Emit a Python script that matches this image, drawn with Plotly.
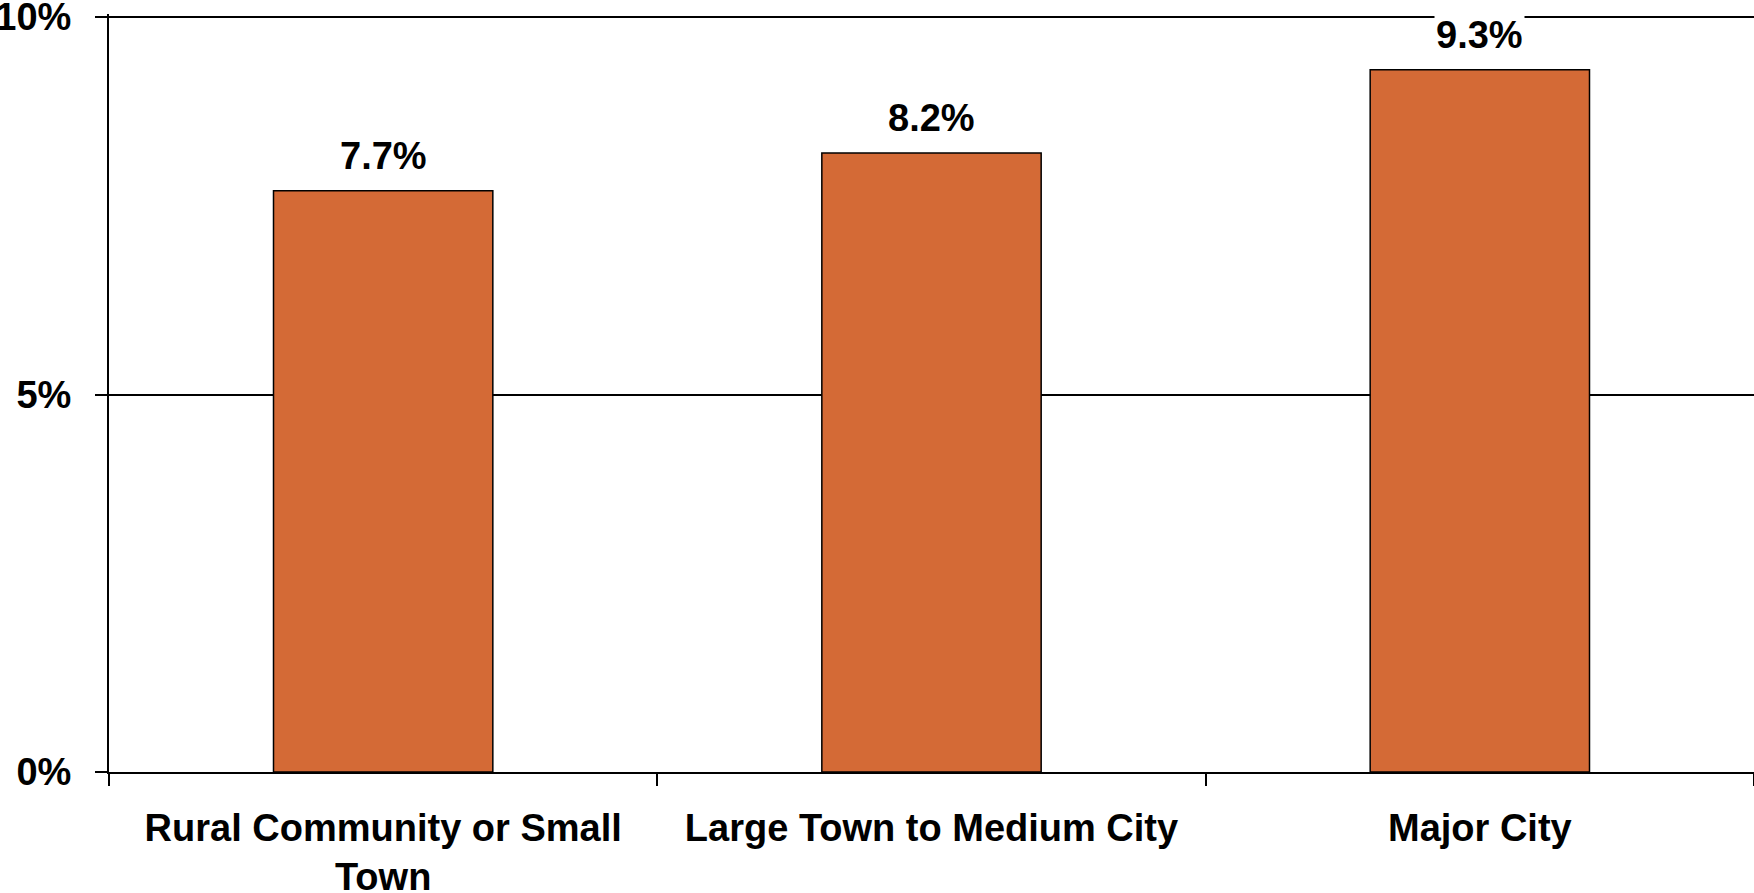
import plotly.graph_objects as go

categories = ["Rural Community or Small<br>Town", "Large Town to Medium City", "Major City"]
values = [7.7, 8.2, 9.3]
labels = ["7.7%", "8.2%", "9.3%"]
y_tickvals = [0, 5, 10]
y_ticktext = ["0%", "5%", "10%"]

FONT = "Liberation Sans, Arial, sans-serif"

fig = go.Figure()
fig.add_trace(go.Bar(
    x=categories, y=values,
    marker=dict(color="#D46A36", line=dict(color="black", width=1.5)),
    width=0.4,
    hoverinfo="skip",
))

for c, v, t in zip(categories, values, labels):
    fig.add_annotation(
        x=c, y=v, text=t, showarrow=False,
        yanchor="middle", yshift=35,
        bgcolor="white", borderpad=1,
        font=dict(family=FONT, size=38, color="black", weight="bold"),
    )

fig.update_layout(
    width=1754, height=893,
    margin=dict(l=109, r=0, t=14, b=121, pad=0),
    paper_bgcolor="white", plot_bgcolor="white",
    showlegend=False,
    xaxis=dict(
        type="category",
        automargin=False,
        tickson="boundaries",
        ticks="outside", ticklen=12, tickwidth=1.5, tickcolor="black",
        showline=True, linecolor="black", linewidth=2,
        showgrid=False,
        ticklabelstandoff=21,
        ticklabeloverflow="allow",
        tickfont=dict(family=FONT, size=38, color="black", weight="bold"),
        range=[-0.5, 2.5],
    ),
    yaxis=dict(
        automargin=False,
        range=[0, 10.04],
        tickvals=y_tickvals, ticktext=y_ticktext,
        ticks="outside", ticklen=12, tickwidth=1.5, tickcolor="black",
        showline=True, linecolor="black", linewidth=2,
        showgrid=True, gridcolor="black", gridwidth=1.5,
        zeroline=False,
        ticklabelstandoff=16,
        ticklabeloverflow="allow",
        tickfont=dict(family=FONT, size=38, color="black", weight="bold"),
    ),
)

fig.write_html(
    "out.html",
    config={"displayModeBar": False},
    post_script="document.body.style.margin='0';document.body.style.overflow='hidden';",
)
